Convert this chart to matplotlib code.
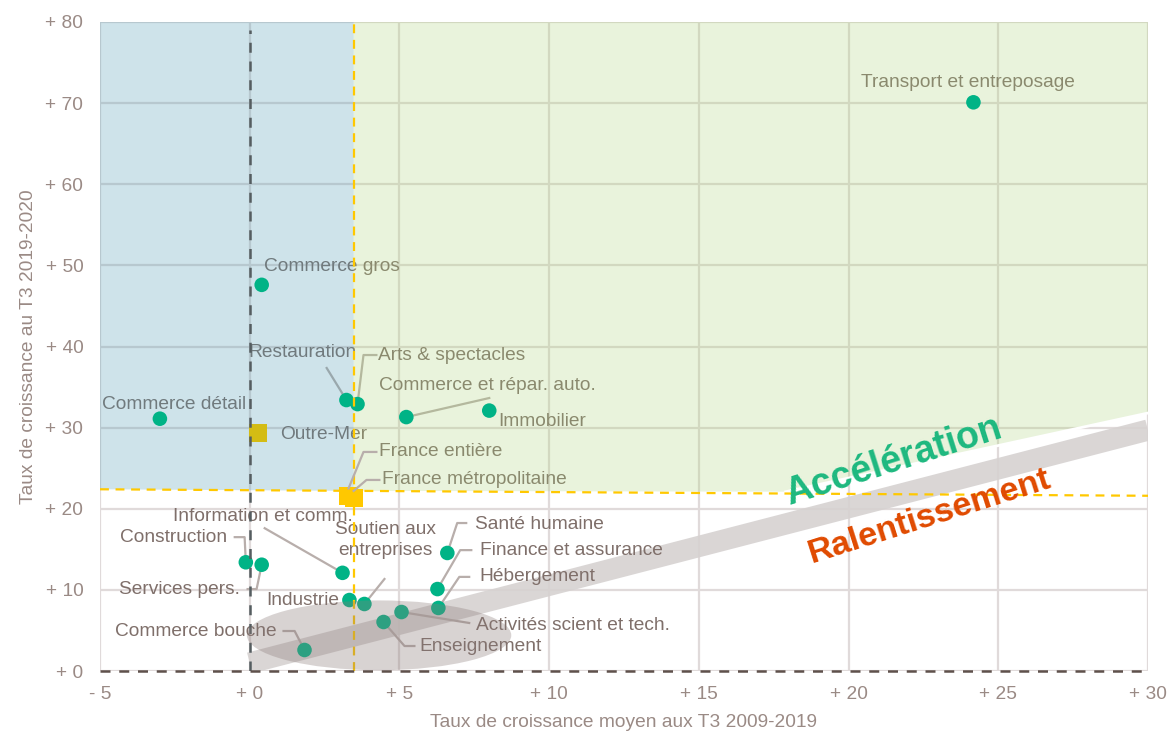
import numpy as np
import matplotlib
matplotlib.use("Agg")
import matplotlib.pyplot as plt
from matplotlib.patches import Ellipse, Polygon

plt.rcParams['font.family'] = ['Liberation Sans', 'DejaVu Sans']

# secteurs : taux moyen T3 2009-2019 (x), taux T3 2019-2020 (y)
sectors = ["Transport et entreposage", "Commerce gros", "Restauration", "Arts & spectacles",
           "Commerce et répar. auto.", "Immobilier", "Commerce détail", "Information et comm.",
           "Construction", "Services pers.", "Industrie", "Soutien aux\nentreprises",
           "Activités scient et tech.", "Enseignement", "Santé humaine",
           "Finance et assurance", "Hébergement", "Commerce bouche"]
sect_x = [24.17, 0.40, 3.23, 3.60, 5.23, 8.00, -3.00, 3.10, -0.13, 0.40, 3.33, 3.83,
          5.07, 4.47, 6.60, 6.27, 6.30, 1.83]
sect_y = [70.1, 47.6, 33.4, 32.9, 31.3, 32.1, 31.1, 12.1, 13.4, 13.1, 8.75, 8.26,
          7.27, 6.04, 14.55, 10.1, 7.77, 2.59]

# territoires
zones = ["Outre-Mer", "France entière", "France métropolitaine"]
zone_x = [0.27, 3.30, 3.47]
zone_y = [29.3, 21.6, 21.3]

# seuils (moyenne France)
thr_x = 3.47
thr_y_left, thr_y_right = 22.4, 21.6

xticks = [-5, 0, 5, 10, 15, 20, 25, 30]
yticks = [0, 10, 20, 30, 40, 50, 60, 70, 80]

# position des étiquettes : (x, y, ha, coude du trait de rappel ou None)
sect_lab = [
    (20.43, 72.6, 'left', None),
    (0.47, 49.8, 'left', None),
    (3.57, 39.2, 'right', [(2.57, 37.35)]),
    (4.30, 38.95, 'left', [(4.23, 38.95), (3.80, 38.95)]),
    (4.33, 35.25, 'left', [(8.00, 33.65)]),
    (8.30, 30.8, 'left', None),
    (-4.93, 32.8, 'left', None),
    (0.43, 19.0, 'center', [(0.50, 17.6)]),
    (-0.77, 16.4, 'right', [(-0.50, 16.5), (-0.17, 16.5)]),
    (-0.33, 10.1, 'right', [(-0.07, 10.1), (0.23, 10.1)]),
    (3.00, 8.75, 'right', None),
    (4.53, 16.15, 'center', [(4.50, 11.34)]),
    (7.57, 5.67, 'left', [(7.33, 5.92)]),
    (5.67, 2.96, 'left', [(5.50, 3.08), (5.17, 3.08)]),
    (7.53, 18.1, 'left', [(7.23, 18.24), (6.93, 18.24)]),
    (7.70, 14.9, 'left', [(7.40, 14.9), (7.03, 14.9)]),
    (7.67, 11.6, 'left', [(7.33, 11.6), (7.00, 11.6)]),
    (0.90, 4.93, 'right', [(1.13, 4.93), (1.50, 4.93)]),
]
zone_lab = [
    (1.00, 29.1, 'left', None),
    (4.33, 27.0, 'left', [(4.23, 27.0), (3.80, 27.0)]),
    (4.43, 23.55, 'left', [(4.33, 23.55), (3.90, 23.55)]),
]

txt_col = '#7f6f6a'
tick_col = '#9a8a85'
lead_col = '#b8aeab'
pt_col = '#00b386'
yellow = '#ffc800'
fs = 13.8

fig = plt.figure(figsize=(11.71, 7.36), dpi=100)
ax = fig.add_axes([100 / 1171, 1 - 671 / 736, 1048 / 1171, 649 / 736])
ax.set_xlim(-5, 30)
ax.set_ylim(0, 80)
for s in ax.spines.values():
    s.set_visible(False)

ax.set_xticks(xticks)
ax.set_yticks(yticks)
ax.set_xticklabels([("- " if v < 0 else "+ ") + str(abs(v)) for v in xticks])
ax.set_yticklabels(["+ " + str(v) for v in yticks])
ax.tick_params(length=0, colors=tick_col, labelsize=fs)
ax.tick_params(axis='x', pad=11)
ax.tick_params(axis='y', pad=12)
ax.grid(True, color='#e0dada', lw=1.6, zorder=0.5)
ax.set_axisbelow(True)

ax.set_xlabel("Taux de croissance moyen aux T3 2009-2019", color=tick_col, fontsize=fs, labelpad=8)
ax.set_ylabel("Taux de croissance au T3 2019-2020", color=tick_col, fontsize=fs, labelpad=6)

# bande diagonale (sous les textes)
ax.plot([0, 30], [0.99, 29.7], color='#d6d2d1', lw=15.3, solid_capstyle='butt', zorder=3,
        alpha=0.9)

# textes et traits de rappel (sous les zones colorées)
for name, x, y, (lx, ly, ha, elbow) in zip(sectors, sect_x, sect_y, sect_lab):
    ax.text(lx, ly, name, ha=ha, va='center', color=txt_col, fontsize=fs, zorder=4,
            linespacing=1.25)
    if elbow:
        px = [p[0] for p in elbow] + [x]
        py = [p[1] for p in elbow] + [y]
        ax.plot(px, py, color=lead_col, lw=1.6, zorder=4)
for name, x, y, (lx, ly, ha, elbow) in zip(zones, zone_x, zone_y, zone_lab):
    ax.text(lx, ly, name, ha=ha, va='center', color=txt_col, fontsize=fs, zorder=4)
    if elbow:
        px = [p[0] for p in elbow] + [x]
        py = [p[1] for p in elbow] + [y + 0.9]
        ax.plot(px, py, color=lead_col, lw=1.6, zorder=7.5)

# zones colorées (semi-transparentes, au-dessus des textes)
y_at_thr = thr_y_left + (thr_y_right - thr_y_left) * (thr_x + 5) / 35
blue = Polygon([(-5, thr_y_left), (thr_x, y_at_thr), (thr_x, 80), (-5, 80)],
               closed=True, fc='#4a98b2', ec='none', alpha=0.27, zorder=5)
green_pts = [(thr_x, y_at_thr), (17.9, 22.1), (30, 31.8), (30, 80), (thr_x, 80)]
green = Polygon(green_pts, closed=True, fc='#acd57a', ec='none', alpha=0.264, zorder=5)
ax.add_patch(blue)
ax.add_patch(green)
ax.plot([17.9, 30], [22.1, 31.8], color='white', lw=2, zorder=5.2)

# points
ax.scatter(sect_x, sect_y, s=110, color=pt_col, edgecolors='none', zorder=6)
ax.scatter(zone_x, zone_y, s=170, marker='s', color=yellow, edgecolors='none', zorder=6)
# Outre-Mer sous la zone bleue -> teinte
ax.scatter(zone_x[:1], zone_y[:1], s=170, marker='s', color='#d4bc14', edgecolors='none',
           zorder=6.1)

# seuils
ax.plot([thr_x, thr_x], [0, 80], ls=(0, (4, 3)), color=yellow, lw=1.6, zorder=6.5)
ax.plot([-5, 30], [thr_y_left, thr_y_right], ls=(0, (4, 3)), color=yellow, lw=1.6, zorder=6.5)
ax.plot([0, 0], [0, 79], ls=(0, (4, 3.5)), color='#555d60', lw=1.8, zorder=6.5)

# ellipse
ax.add_patch(Ellipse((4.32, 4.4), 8.83, 8.6, fc='#8a7a78', ec='none', alpha=0.33, zorder=7))

ax.plot([-5, 30], [0, 0], ls=(0, (4, 3.5)), color='#5f514c', lw=1.8, zorder=8, clip_on=False)

ax.text(21.5, 25.8, "Accélération", color='#1db87f', fontsize=27, fontweight='bold',
        rotation=17.6, ha='center', va='center', zorder=8, rotation_mode='anchor')
ax.text(22.7, 19.0, "Ralentissement", color='#e04a00', fontsize=24.7, fontweight='bold',
        rotation=17.6, ha='center', va='center', zorder=8, rotation_mode='anchor')

fig.savefig("out.png", dpi=100)
